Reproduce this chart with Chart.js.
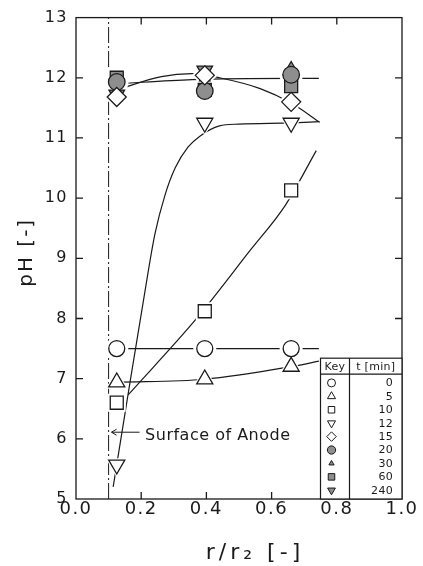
<!DOCTYPE html>
<html>
<head>
<meta charset="utf-8">
<title>pH profile around the anode</title>
<script src="https://cdn.jsdelivr.net/npm/chart.js@4.4.1/dist/chart.umd.min.js"></script>
<style>
  html, body { margin: 0; padding: 0; background: #fff; }
  canvas { display: block; }
</style>
</head>
<body>
<canvas id="chart" width="423" height="566"></canvas>
<script>
// Radial sampling positions r/r2
const radii = [0.125, 0.395, 0.66];

// Elapsed time labels t [min]
const times = ['0', '5', '10', '12', '15', '20', '30', '60', '240'];

// Measured pH at each radius
const ph0   = [7.5, 7.5, 7.5];
const ph5   = [6.94, 6.99, 7.2];
const ph10  = [6.6, 8.12, 10.13];
const ph12  = [5.57, 11.25, 11.25];
const ph15  = [11.68, 12.04, 11.6];
const ph20  = [11.93, 11.78, 12.05];
const ph30  = [11.95, 12.0, 12.17];
const ph60  = [12.0, 11.8, 11.86];
const ph240 = [11.72, 12.12, 11.97];

// Smoothed trend curves (r/r2, pH)
const fit0X  = [0.125, 0.395, 0.66, 0.745];
const fit0Y  = [7.5, 7.5, 7.5, 7.5];
const fit5X  = [0.125, 0.395, 0.66, 0.745];
const fit5Y  = [6.94, 6.99, 7.2, 7.29];
const fit10X = [0.16, 0.37, 0.534, 0.642, 0.737];
const fit10Y = [6.73, 8.0, 9.13, 9.88, 10.79];
const fit12X = [0.114, 0.125, 0.166, 0.207, 0.242, 0.273, 0.304, 0.344, 0.38, 0.44, 0.5, 0.66, 0.745];
const fit12Y = [5.2, 5.57, 6.95, 8.3, 9.4, 10.05, 10.5, 10.85, 11.03, 11.2, 11.23, 11.25, 11.27];
const fit15X = [0.125, 0.262, 0.356, 0.44, 0.565, 0.66, 0.748];
const fit15Y = [11.8, 12.02, 12.07, 12.0, 11.82, 11.58, 11.26];
const fitLongX = [0.125, 0.356, 0.66, 0.745];
const fitLongY = [11.9, 11.97, 11.99, 11.99];

// Anode surface position
const anodeX = 0.1;

// Axis ticks
const xTicks = [0, 0.2, 0.4, 0.6, 0.8, 1.0];
const yTicks = [5, 6, 7, 8, 9, 10, 11, 12, 13];

const FONT = "'DejaVu Sans', 'Liberation Sans', sans-serif";
const INK = '#1a1a1a';
const GRAY = '#8e8e8e';

const pts = (xs, ys) => xs.map((x, i) => ({ x, y: ys[i] }));

const series = [ph0, ph5, ph10, ph12, ph15, ph20, ph30, ph60, ph240];

// Marker look per time step (order matches `times`)
const markerLook = [
  { style: 'circle',   r: 8,   rot: 0,   fill: '#fff', layer: 1 },
  { style: 'triangle', r: 9.3, rot: 0,   fill: '#fff', layer: 1 },
  { style: 'rect',     r: 9.2, rot: 0,   fill: '#fff', layer: 1 },
  { style: 'triangle', r: 9.3, rot: 180, fill: '#fff', layer: 1 },
  { style: 'rectRot',  r: 9.5, rot: 0,   fill: '#fff', layer: 1 },
  { style: 'circle',   r: 8.3, rot: 0,   fill: GRAY,   layer: 2 },
  { style: 'triangle', r: 6,   rot: 0,   fill: GRAY,   layer: 4 },
  { style: 'rect',     r: 9.2, rot: 0,   fill: GRAY,   layer: 3 },
  { style: 'triangle', r: 9,   rot: 180, fill: GRAY,   layer: 4 }
];

const datasets = [];

// Markers
series.forEach((vals, i) => {
  const m = markerLook[i];
  datasets.push({
    label: times[i] + ' min',
    data: pts(radii, vals),
    showLine: false,
    pointStyle: m.style,
    pointRadius: m.r,
    pointRotation: m.rot,
    pointBackgroundColor: m.fill,
    pointBorderColor: INK,
    pointBorderWidth: 1.3,
    pointHoverRadius: m.r,
    order: m.layer
  });
});

// White halos that open a small gap in the curves around each marker
series.forEach((vals, i) => {
  const m = markerLook[i];
  datasets.push({
    label: 'halo ' + times[i],
    data: pts(radii, vals),
    showLine: false,
    pointStyle: m.style,
    pointRadius: m.r + 3.5,
    pointRotation: m.rot,
    pointBackgroundColor: '#fff',
    pointBorderColor: '#fff',
    pointBorderWidth: 0,
    order: 10
  });
});

// Trend curves
[[fit0X, fit0Y], [fit5X, fit5Y], [fit10X, fit10Y], [fit12X, fit12Y], [fit15X, fit15Y], [fitLongX, fitLongY]]
  .forEach(([xs, ys], i) => {
    datasets.push({
      label: 'fit ' + i,
      data: pts(xs, ys),
      showLine: true,
      borderColor: INK,
      borderWidth: 1.2,
      pointRadius: 0,
      cubicInterpolationMode: 'monotone',
      fill: false,
      order: 20
    });
  });

// Anode surface (dash-dot)
datasets.push({
  label: 'anode',
  data: [{ x: anodeX, y: yTicks[0] }, { x: anodeX, y: yTicks[yTicks.length - 1] }],
  showLine: true,
  borderColor: INK,
  borderWidth: 1,
  borderDash: [16, 3, 2, 3],
  pointRadius: 0,
  order: 20
});

const decor = {
  id: 'decor',
  beforeDraw(chart) {
    chart.ctx.letterSpacing = '1.5px';
  },
  afterDraw(chart) {
    const { ctx, chartArea: a, scales: { x, y } } = chart;
    ctx.save();
    ctx.letterSpacing = '0px';

    // Frame
    ctx.strokeStyle = INK;
    ctx.lineWidth = 1.3;
    ctx.strokeRect(a.left, a.top, a.right - a.left, a.bottom - a.top);

    // Inward tick marks on all four sides
    const tl = 7;
    ctx.beginPath();
    xTicks.forEach(v => {
      if (v <= x.min || v >= x.max) return;
      const px = x.getPixelForValue(v);
      ctx.moveTo(px, a.bottom); ctx.lineTo(px, a.bottom - tl);
      ctx.moveTo(px, a.top); ctx.lineTo(px, a.top + tl);
    });
    yTicks.forEach(v => {
      if (v <= y.min || v >= y.max) return;
      const py = y.getPixelForValue(v);
      ctx.moveTo(a.left, py); ctx.lineTo(a.left + tl, py);
      ctx.moveTo(a.right, py); ctx.lineTo(a.right - tl, py);
    });
    ctx.stroke();

    // Annotation: surface of anode
    const ay = y.getPixelForValue(6.11);
    const ax0 = x.getPixelForValue(0.195);
    const ax1 = x.getPixelForValue(0.109);
    ctx.lineWidth = 1;
    ctx.beginPath();
    ctx.moveTo(ax0, ay); ctx.lineTo(ax1, ay);
    ctx.moveTo(ax1 + 5, ay - 3); ctx.lineTo(ax1, ay); ctx.lineTo(ax1 + 5, ay + 3);
    ctx.stroke();
    ctx.fillStyle = INK;
    ctx.font = '16px ' + FONT;
    ctx.letterSpacing = '0.5px';
    ctx.textAlign = 'left';
    ctx.textBaseline = 'middle';
    ctx.fillText('Surface of Anode', x.getPixelForValue(0.212), y.getPixelForValue(6.05));

    // Key table
    const L = x.getPixelForValue(0.75), R = a.right;
    const T = y.getPixelForValue(7.34), B = a.bottom;
    ctx.fillStyle = '#fff';
    ctx.fillRect(L, T, R - L, B - T);
    ctx.strokeStyle = INK;
    ctx.lineWidth = 1.2;
    ctx.strokeRect(L, T, R - L, B - T);
    const headH = 16, divX = L + 29;
    ctx.beginPath();
    ctx.moveTo(L, T + headH); ctx.lineTo(R, T + headH);
    ctx.moveTo(divX, T); ctx.lineTo(divX, B);
    ctx.stroke();
    ctx.fillStyle = INK;
    ctx.font = '11px ' + FONT;
    ctx.letterSpacing = '0.3px';
    ctx.textAlign = 'center';
    ctx.fillText('Key', (L + divX) / 2, T + headH / 2 + 1);
    ctx.fillText('t [min]', (divX + R) / 2, T + headH / 2 + 1);
    const rowH = (B - T - headH - 4) / times.length;
    times.forEach((t, i) => {
      const cy = T + headH + 2 + rowH * (i + 0.5);
      const m = markerLook[i];
      ctx.fillStyle = m.fill;
      ctx.strokeStyle = INK;
      ctx.lineWidth = 1;
      Chart.helpers.drawPoint(ctx, {
        pointStyle: m.style, radius: m.r * 0.5, rotation: m.rot, borderWidth: 1
      }, L + 11, cy);
      ctx.fillStyle = INK;
      ctx.textAlign = 'right';
      ctx.font = '11px ' + FONT;
      ctx.fillText(t, R - 9, cy + 0.5);
    });

    // Axis titles
    ctx.fillStyle = INK;
    ctx.textAlign = 'center';
    ctx.textBaseline = 'middle';
    ctx.font = '20px ' + FONT;
    ctx.letterSpacing = '2px';
    ctx.save();
    ctx.translate(a.left - 49, (a.top + a.bottom) / 2 - 6);
    ctx.rotate(-Math.PI / 2);
    ctx.fillText('pH [-]', 0, 0);
    ctx.restore();
    ctx.font = '22px ' + FONT;
    ctx.letterSpacing = '4px';
    ctx.fillText('r/r\u2082 [-]', (a.left + a.right) / 2 + 16, chart.height - 13);

    ctx.restore();
    ctx.letterSpacing = '0px';
  }
};

new Chart(document.getElementById('chart'), {
  type: 'scatter',
  data: { datasets },
  options: {
    responsive: false,
    animation: false,
    devicePixelRatio: 1,
    layout: { padding: { left: 0, right: 21, top: 17, bottom: 0 } },
    plugins: {
      legend: { display: false },
      tooltip: { enabled: false }
    },
    scales: {
      x: {
        type: 'linear',
        min: 0,
        max: 1,
        afterBuildTicks: s => { s.ticks = xTicks.map(v => ({ value: v })); },
        afterFit: s => { s.height = 67; },
        ticks: {
          callback: v => Number(v).toFixed(1),
          font: { family: FONT, size: 18 },
          color: INK,
          padding: 0,
          maxRotation: 0,
          autoSkip: false
        },
        grid: { display: false, drawTicks: false },
        border: { display: false }
      },
      y: {
        type: 'linear',
        min: 5,
        max: 13,
        afterBuildTicks: s => { s.ticks = yTicks.map(v => ({ value: v })); },
        afterFit: s => { s.width = 76; },
        ticks: {
          callback: v => String(v),
          font: { family: FONT, size: 16 },
          color: INK,
          padding: 8,
          autoSkip: false
        },
        grid: { display: false, drawTicks: false },
        border: { display: false }
      }
    }
  },
  plugins: [decor]
});
</script>
</body>
</html>
